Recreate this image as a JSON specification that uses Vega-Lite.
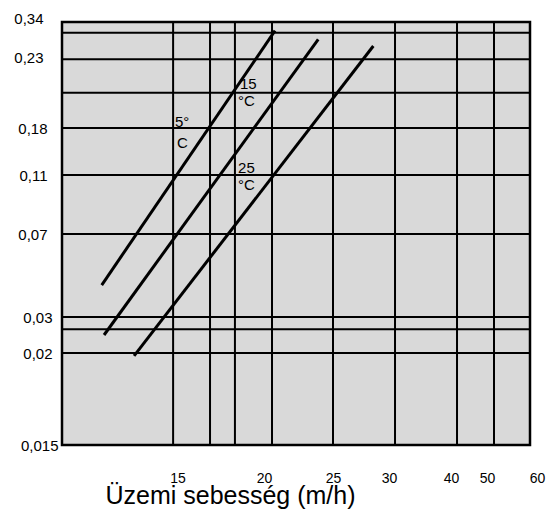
{
  "$schema": "https://vega.github.io/schema/vega-lite/v6.json",
  "width": 468,
  "height": 423,
  "autosize": {"type": "none"},
  "padding": {"left": 62, "top": 22, "right": 24, "bottom": 67},
  "background": "white",
  "view": {"fill": "#d9d9d9", "stroke": "black", "strokeWidth": 2.5},
  "config": {
    "font": "Liberation Sans",
    "axis": {"grid": false, "ticks": false, "domain": false, "labelColor": "black", "labelFont": "Liberation Sans", "labelFontSize": 15}
  },
  "datasets": {
    "vgrid": [{"speed": 14.81}, {"speed": 16.88}, {"speed": 18.32}, {"speed": 20.58}, {"speed": 25}, {"speed": 30.97}, {"speed": 41.67}, {"speed": 51.4}],
    "hgrid": [{"value": 0.2985}, {"value": 0.2285}, {"value": 0.2049}, {"value": 0.18}, {"value": 0.11}, {"value": 0.07}, {"value": 0.03}, {"value": 0.0266}, {"value": 0.02}],
    "curves": [
      {"temp": "5 °C", "speed": 11.72, "value": 0.0454},
      {"temp": "5 °C", "speed": 20.8, "value": 0.3042},
      {"temp": "15 °C", "speed": 11.82, "value": 0.025},
      {"temp": "15 °C", "speed": 23.93, "value": 0.2799},
      {"temp": "25 °C", "speed": 13.12, "value": 0.01984},
      {"temp": "25 °C", "speed": 28.6, "value": 0.261}
    ],
    "labels": [
      {"text": "5°", "speed": 14.89, "value": 0.1842},
      {"text": "C", "speed": 14.98, "value": 0.1577},
      {"text": "15", "speed": 18.61, "value": 0.211},
      {"text": "°C", "speed": 18.5, "value": 0.1987},
      {"text": "25", "speed": 18.5, "value": 0.1204},
      {"text": "°C", "speed": 18.5, "value": 0.1032}
    ]
  },
  "layer": [
    {
      "data": {"name": "vgrid"},
      "mark": {"type": "rule", "color": "black", "strokeWidth": 2},
      "encoding": {
        "x": {
          "field": "speed", "type": "quantitative",
          "scale": {"type": "linear", "domain": [10, 15, 20, 25, 30, 40, 50, 60], "range": [0, 115.5, 202, 271, 327, 389, 425, 475], "nice": false, "zero": false},
          "axis": {
            "values": [15, 20, 25, 30, 40, 50, 60],
            "labelBaseline": "middle",
            "labelPadding": 33,
            "labelFontSize": 14,
            "labelOverlap": false,
            "labelFlush": false,
            "title": "Üzemi sebesség (m/h)",
            "titleFont": "Liberation Sans",
            "titleFontSize": 25,
            "titleFontWeight": "normal",
            "titleColor": "black",
            "titleX": 168,
            "titleY": 58,
            "titleAlign": "center",
            "titleBaseline": "alphabetic"
          }
        }
      }
    },
    {
      "data": {"name": "hgrid"},
      "mark": {"type": "rule", "color": "black", "strokeWidth": 2},
      "encoding": {
        "y": {
          "field": "value", "type": "quantitative",
          "scale": {"type": "linear", "domain": [0.015, 0.02, 0.03, 0.07, 0.11, 0.18, 0.23, 0.34], "range": [423, 331, 295, 212, 153, 106, 35, -4], "nice": false, "zero": false},
          "axis": {
            "values": [0.015, 0.02, 0.03, 0.07, 0.11, 0.18, 0.23, 0.34],
            "format": ",.3~f",
            "labelExpr": "replace(datum.label, '.', ',')",
            "labelBaseline": "middle",
            "labelPadding": {"expr": "datum.value < 0.017 ? 4 : datum.value < 0.05 ? 10 : datum.value < 0.2 ? 15 : 19"},
            "labelOverlap": false,
            "labelFlush": false,
            "title": null
          }
        }
      }
    },
    {
      "data": {"name": "curves"},
      "mark": {"type": "line", "color": "black", "strokeWidth": 3, "strokeCap": "butt"},
      "encoding": {
        "x": {"field": "speed", "type": "quantitative", "scale": {"type": "linear", "domain": [10, 15, 20, 25, 30, 40, 50, 60], "range": [0, 115.5, 202, 271, 327, 389, 425, 475], "nice": false, "zero": false}},
        "y": {"field": "value", "type": "quantitative", "scale": {"type": "linear", "domain": [0.015, 0.02, 0.03, 0.07, 0.11, 0.18, 0.23, 0.34], "range": [423, 331, 295, 212, 153, 106, 35, -4], "nice": false, "zero": false}},
        "detail": {"field": "temp", "type": "nominal"}
      }
    },
    {
      "data": {"name": "labels"},
      "mark": {"type": "text", "align": "left", "baseline": "middle", "fontSize": 15, "font": "Liberation Sans", "color": "black"},
      "encoding": {
        "x": {"field": "speed", "type": "quantitative", "scale": {"type": "linear", "domain": [10, 15, 20, 25, 30, 40, 50, 60], "range": [0, 115.5, 202, 271, 327, 389, 425, 475], "nice": false, "zero": false}},
        "y": {"field": "value", "type": "quantitative", "scale": {"type": "linear", "domain": [0.015, 0.02, 0.03, 0.07, 0.11, 0.18, 0.23, 0.34], "range": [423, 331, 295, 212, 153, 106, 35, -4], "nice": false, "zero": false}},
        "text": {"field": "text", "type": "nominal"}
      }
    }
  ]
}
